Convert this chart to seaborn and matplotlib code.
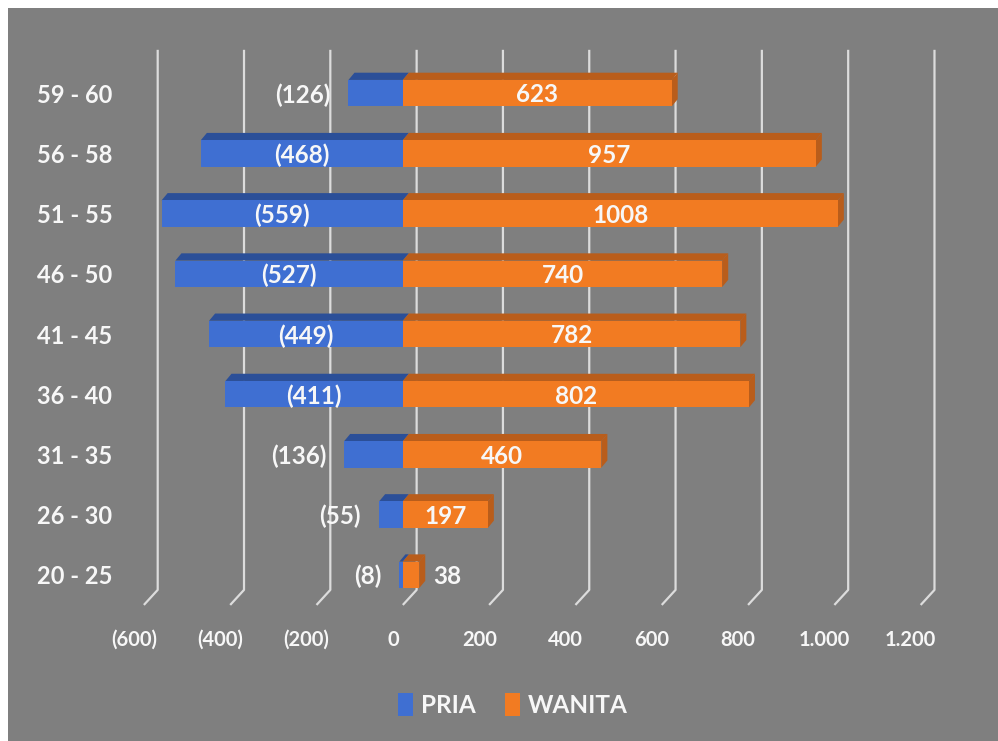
import matplotlib
matplotlib.use("Agg")
import matplotlib.pyplot as plt
from matplotlib.patches import Polygon, Rectangle, Patch
import pandas as pd
import seaborn as sns

age_groups = ["59 - 60", "56 - 58", "51 - 55", "46 - 50", "41 - 45",
              "36 - 40", "31 - 35", "26 - 30", "20 - 25"]
pria = [126, 468, 559, 527, 449, 411, 136, 55, 8]
wanita = [623, 957, 1008, 740, 782, 802, 460, 197, 38]
x_ticks = [-600, -400, -200, 0, 200, 400, 600, 800, 1000, 1200]
x_tick_labels = ["(600)", "(400)", "(200)", "0", "200", "400", "600",
                 "800", "1.000", "1.200"]

BG = "#7f7f7f"
BLUE = "#3f6fd2"
BLUE_DARK = "#2b4f98"
ORANGE = "#f27b22"
ORANGE_DARK = "#b95d1b"
GRID = "#dcdcdc"
TXT = "#f7f7f7"

df = pd.DataFrame({
    "age": age_groups,
    "PRIA": [-v for v in pria],
    "WANITA": wanita,
})

sns.set_style("white")
plt.rcParams["font.family"] = ["Lato", "DejaVu Sans"]

fig = plt.figure(figsize=(9.98, 7.41), dpi=100, facecolor="white")
# grey chart panel, white strip on top/left like the screenshot
fig.patches.append(Rectangle((8 / 998, 0), 1, (741 - 8) / 741,
                             transform=fig.transFigure, facecolor=BG,
                             edgecolor="none", zorder=-10))

ax = fig.add_axes([118 / 998, (741 - 620) / 741, 829 / 998, 575 / 741])
ax.set_facecolor("none")

# perspective offsets (back wall shift)
gx = 32   # data units ~14 px
dx = 14   # depth of bar tops in x
dy = 0.12 # depth of bar tops in y

# gridlines on the back wall, with the slanted floor part
for v in x_ticks:
    ax.plot([v + gx, v + gx, v], [-0.72, 8.25, 8.5], color=GRID, lw=1.6,
            zorder=0, solid_capstyle="butt")

sns.barplot(data=df, y="age", x="PRIA", order=age_groups, color=BLUE,
            width=0.44, orient="h", saturation=1, linewidth=0,
            edgecolor="none", ax=ax, zorder=3)
sns.barplot(data=df, y="age", x="WANITA", order=age_groups, color=ORANGE,
            width=0.44, orient="h", saturation=1, linewidth=0,
            edgecolor="none", ax=ax, zorder=3)

# fake 3D tops and side faces
bars = list(ax.patches)
for p in bars:
    x0, w = p.get_x(), p.get_width()
    y0, h = p.get_y(), p.get_height()
    left, right = min(x0, x0 + w), max(x0, x0 + w)
    top, bot = min(y0, y0 + h), max(y0, y0 + h)
    dark = BLUE_DARK if x0 + w < 0 else ORANGE_DARK
    ax.add_patch(Polygon([(left, top), (right, top), (right + dx, top - dy),
                          (left + dx, top - dy)], closed=True,
                         facecolor=dark, edgecolor="none", zorder=2.9))
    if x0 + w > 0:
        ax.add_patch(Polygon([(right, top), (right, bot),
                              (right + dx, bot - dy), (right + dx, top - dy)],
                             closed=True, facecolor=dark, edgecolor="none",
                             zorder=2.9))

# value labels
for i, (m, f) in enumerate(zip(pria, wanita)):
    lab = f"({m})"
    if m >= 150:
        ax.text(-m / 2, i + 0.03, lab, ha="center", va="center", color=TXT,
                fontsize=17.5, fontweight="bold", zorder=5)
    else:
        ax.text(-m - 42, i + 0.03, lab, ha="right", va="center", color=TXT,
                fontsize=17.5, fontweight="bold", zorder=5)
    if f >= 150:
        ax.text(f / 2, i + 0.03, str(f), ha="center", va="center", color=TXT,
                fontsize=17.5, fontweight="bold", zorder=5)
    else:
        ax.text(f + 32, i + 0.03, str(f), ha="left", va="center", color=TXT,
                fontsize=17.5, fontweight="bold", zorder=5)

ax.set_xlim(-660, 1261)
ax.set_ylim(8.75, -0.8)

for v, lab in zip(x_ticks, x_tick_labels):
    ax.text(v - 23, 9.08, lab, ha="center", va="center", color=TXT,
            fontsize=14.5, fontweight="bold", clip_on=False)

ax.set_xticks([])
ax.set_yticks(range(len(age_groups)))
ax.set_yticklabels(age_groups, color=TXT, fontsize=17, fontweight="bold")
ax.tick_params(axis="y", length=0, pad=4)
ax.set_xlabel("")
ax.set_ylabel("")
sns.despine(ax=ax, left=True, bottom=True)

handles = [Patch(facecolor=BLUE, edgecolor="none", label="PRIA"),
           Patch(facecolor=ORANGE, edgecolor="none", label="WANITA")]
fig.legend(handles=handles, loc="center", bbox_to_anchor=(0.514, 0.049),
           ncol=2, frameon=False, labelcolor=TXT, handlelength=0.6,
           handleheight=1.1, handletextpad=0.35, columnspacing=1.2,
           prop={"size": 17.5, "weight": "bold"})

fig.savefig("out.png", dpi=100, facecolor=fig.get_facecolor())
